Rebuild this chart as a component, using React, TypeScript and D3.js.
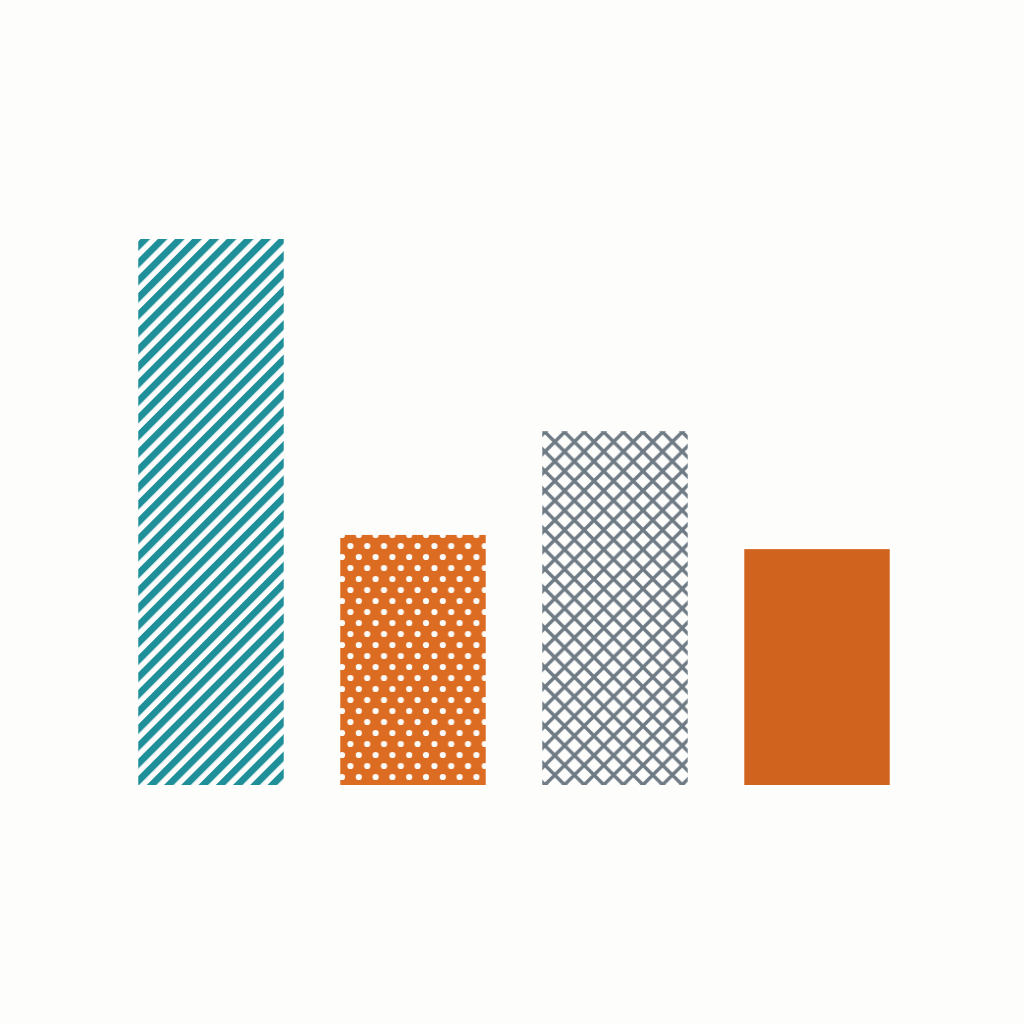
import React, { useEffect, useRef } from 'react';
import * as d3 from 'd3';

const categories = ['A', 'B', 'C', 'D'];
const values = [100, 45.8, 64.8, 43.2];
const patterns = ['stripes', 'dots', 'crosshatch', 'solid'];

const width = 1024;
const height = 1024;

const App: React.FC = () => {
  const svgRef = useRef<SVGSVGElement>(null);

  useEffect(() => {
    if (!svgRef.current) return;
    const svg = d3.select(svgRef.current);
    svg.selectAll('*').remove();

    svg.append('rect').attr('width', width).attr('height', height).attr('fill', '#fdfdfc');

    const defs = svg.append('defs');

    // diagonal teal stripes
    const sp = 12.2;
    const stripes = defs.append('pattern')
      .attr('id', 'stripes')
      .attr('patternUnits', 'userSpaceOnUse')
      .attr('width', sp)
      .attr('height', sp)
      .attr('patternTransform', 'rotate(45)');
    stripes.append('rect').attr('width', sp).attr('height', sp).attr('fill', '#fdfdfc');
    stripes.append('rect').attr('width', 6.8).attr('height', sp).attr('fill', '#1f8f99');

    // staggered white dots on orange
    const dots = defs.append('pattern')
      .attr('id', 'dots')
      .attr('patternUnits', 'userSpaceOnUse')
      .attr('x', 342)
      .attr('y', 535)
      .attr('width', 16.8)
      .attr('height', 22);
    dots.append('rect').attr('width', 16.8).attr('height', 22).attr('fill', '#dc6c22');
    [[0, 0], [16.8, 0], [8.4, 11], [0, 22], [16.8, 22]].forEach(([cx, cy]) => {
      dots.append('circle').attr('cx', cx).attr('cy', cy).attr('r', 3.1).attr('fill', '#fbfbfa');
    });

    // gray diamond lattice
    const hatch = defs.append('pattern')
      .attr('id', 'crosshatch')
      .attr('patternUnits', 'userSpaceOnUse')
      .attr('x', 545)
      .attr('y', 432)
      .attr('width', 19.6)
      .attr('height', 19.6);
    hatch.append('rect').attr('width', 19.6).attr('height', 19.6).attr('fill', '#fdfdfc');
    hatch.append('path')
      .attr('d', 'M-9.8,9.8 L9.8,-9.8 M0,19.6 L19.6,0 M9.8,29.4 L29.4,9.8 M-9.8,9.8 L9.8,29.4 M0,0 L19.6,19.6 M9.8,-9.8 L29.4,9.8')
      .attr('stroke', '#6e7a84')
      .attr('stroke-width', 3.4);

    const fills: Record<string, string> = {
      stripes: 'url(#stripes)',
      dots: 'url(#dots)',
      crosshatch: 'url(#crosshatch)',
      solid: '#d0631d',
    };

    const x = d3.scaleBand()
      .domain(categories)
      .range([111, 917])
      .paddingInner(0.28)
      .paddingOuter(0.135);

    const y = d3.scaleLinear()
      .domain([0, 100])
      .range([785, 239]);

    svg.selectAll('.bar')
      .data(categories)
      .enter()
      .append('rect')
      .attr('class', 'bar')
      .attr('x', d => x(d) || 0)
      .attr('y', (d, i) => y(values[i]))
      .attr('width', x.bandwidth())
      .attr('height', (d, i) => y(0) - y(values[i]))
      .attr('fill', (d, i) => fills[patterns[i]]);
  }, []);

  return (
    <div style={{ position: 'absolute', left: 0, top: 0, width, height, background: '#fdfdfc' }}>
      <svg ref={svgRef} width={width} height={height} style={{ display: 'block' }} />
    </div>
  );
};

export default App;
